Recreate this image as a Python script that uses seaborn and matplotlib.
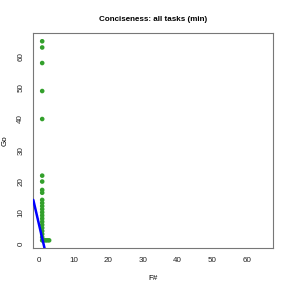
import numpy as np
import pandas as pd
import matplotlib
matplotlib.use("Agg")
import matplotlib.pyplot as plt
import seaborn as sns

# lines of code: F# vs Go, one point per task (min)
fsharp = [1, 1, 1, 1, 1, 1, 1, 1, 1,
          1, 1, 1, 1, 1, 1, 1, 1, 1, 1, 1, 1, 1, 1,
          1.5, 2, 2.5, 3]
go = [65, 63, 58, 49, 40, 21.8, 19.9, 17.2, 16.3,
      14, 13, 12, 11, 10, 9, 8, 7, 6, 5, 4, 3, 2, 1,
      1, 1, 1, 1]

# fitted line Go ~ F#
fit_intercept = 6.5
fit_slope = -4.8

ticks = [0, 10, 20, 30, 40, 50, 60]
lim = (-1.56, 67.56)

df = pd.DataFrame({"F#": fsharp, "Go": go})

sns.set_style("white")
plt.rcParams["font.family"] = ["Liberation Sans", "DejaVu Sans"]
plt.rcParams["text.color"] = "black"
plt.rcParams["axes.labelcolor"] = "black"

fig = plt.figure(figsize=(2.91, 2.91), dpi=100)
ax = fig.add_axes([33.3 / 291, 1 - 248.3 / 291, 240 / 291, 215 / 291])

sns.scatterplot(data=df, x="F#", y="Go", ax=ax, color="#33a02c",
                s=11, edgecolor="none", zorder=3)
ax.axline((0, fit_intercept), slope=fit_slope, color="#0000ff", lw=1.8, zorder=4)

ax.set_xlim(lim)
ax.set_ylim(lim)
ax.set_xticks(ticks)
ax.set_yticks(ticks)
ax.set_yticklabels([str(t) for t in ticks], rotation=90, va="center")
ax.tick_params(axis="both", direction="out", length=3.5, width=0.6,
               labelsize=5.8, pad=3, color="#444444", labelcolor="#222222")
for sp in ax.spines.values():
    sp.set_color("#777777")
    sp.set_linewidth(0.8)

ax.set_xlabel("F#", fontsize=5.8, labelpad=8)
ax.set_ylabel("Go", fontsize=5.8, labelpad=6)
ax.set_title("Conciseness: all tasks (min)", fontsize=5.8, fontweight="bold",
             pad=9, color="black")

fig.savefig("out.png", dpi=100)
